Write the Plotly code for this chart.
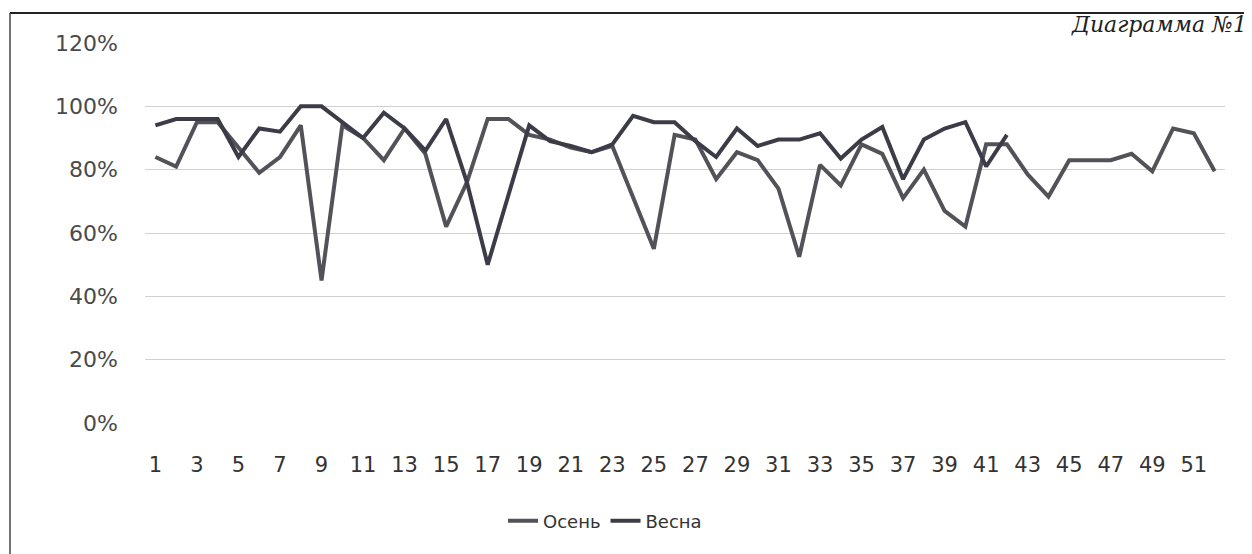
import plotly.graph_objects as go

# Data (percent values)
categories = list(range(1, 53))
tick_labels = [str(i) for i in range(1, 52, 2)]

osen = [84, 81, 95, 95, 87, 79, 84, 94, 45, 94,
        90, 83, 93, 85, 62, 76, 96, 96, 91, 89.5,
        87, 85.5, 87.5, 71, 55, 91, 89.5, 77, 85.5, 83,
        74, 52.5, 81.5, 75, 88, 85, 71, 80, 67, 62,
        88, 88, 78.5, 71.5, 83, 83, 83, 85, 79.5, 93,
        91.5, 79.5]

vesna = [94, 96, 96, 96, 84, 93, 92, 100, 100, 95,
         90, 98, 93, 86, 96, 76, 50, 72, 94, 89,
         87.5, 85.5, 88, 97, 95, 95, 89, 84, 93, 87.5,
         89.5, 89.5, 91.5, 83.5, 89.5, 93.5, 77, 89.5, 93, 95,
         81, 91]

OFF = 8  # page body margin
W, H = 1244, 546
L, R, T, B = 137, 27, 35, 131
pw, ph = W - L - R, H - T - B


def px(x):
    return (x - OFF - L) / pw


def py(y):
    return (H - B - (y - OFF)) / ph


fig = go.Figure()
fig.add_trace(go.Scatter(
    x=categories[:len(osen)], y=[v / 100 for v in osen], name="Осень",
    mode="lines", line=dict(color="#525258", width=4)))
fig.add_trace(go.Scatter(
    x=categories[:len(vesna)], y=[v / 100 for v in vesna], name="Весна",
    mode="lines", line=dict(color="#3c3c48", width=4)))

font_main = "'DejaVu Sans', 'Noto Sans', sans-serif"

fig.update_layout(
    width=W, height=H,
    margin=dict(l=L, r=R, t=T, b=B),
    paper_bgcolor="white", plot_bgcolor="white",
    font=dict(family=font_main, size=20, color="#3a3a3a"),
    showlegend=True,
    legend=dict(orientation="h", x=px(605), xanchor="center",
                y=py(521), yanchor="middle",
                font=dict(size=18, family=font_main, color="#333333"),
                bgcolor="rgba(0,0,0,0)"),
    xaxis=dict(range=[0.5, 52.5], tickmode="array",
               tickvals=list(range(1, 52, 2)), ticktext=tick_labels,
               showgrid=False, zeroline=False, showline=False,
               ticks="", ticklabelstandoff=27,
               tickfont=dict(size=21, color="#333333")),
    yaxis=dict(range=[0, 1.2], dtick=0.2, tickformat=".0%",
               showgrid=True, gridcolor="#d0d0d0", gridwidth=1,
               zeroline=False, showline=False, ticks="",
               ticklabelstandoff=26,
               tickfont=dict(size=22, color="#4a4a4a")),
    shapes=[
        dict(type="line", xref="paper", yref="paper",
             x0=px(10), x1=px(1260), y0=py(13), y1=py(13),
             line=dict(color="#222222", width=2)),
        dict(type="line", xref="paper", yref="paper",
             x0=px(10), x1=px(10), y0=py(13), y1=py(560),
             line=dict(color="#444444", width=1.5)),
    ],
    annotations=[
        dict(text="<i>Диаграмма №1</i>", xref="paper", yref="paper",
             x=px(1249), y=py(10), xanchor="right", yanchor="top",
             showarrow=False,
             font=dict(family="'DejaVu Serif', serif", size=22,
                       color="#222222")),
    ],
)

fig.write_html("out.html")
